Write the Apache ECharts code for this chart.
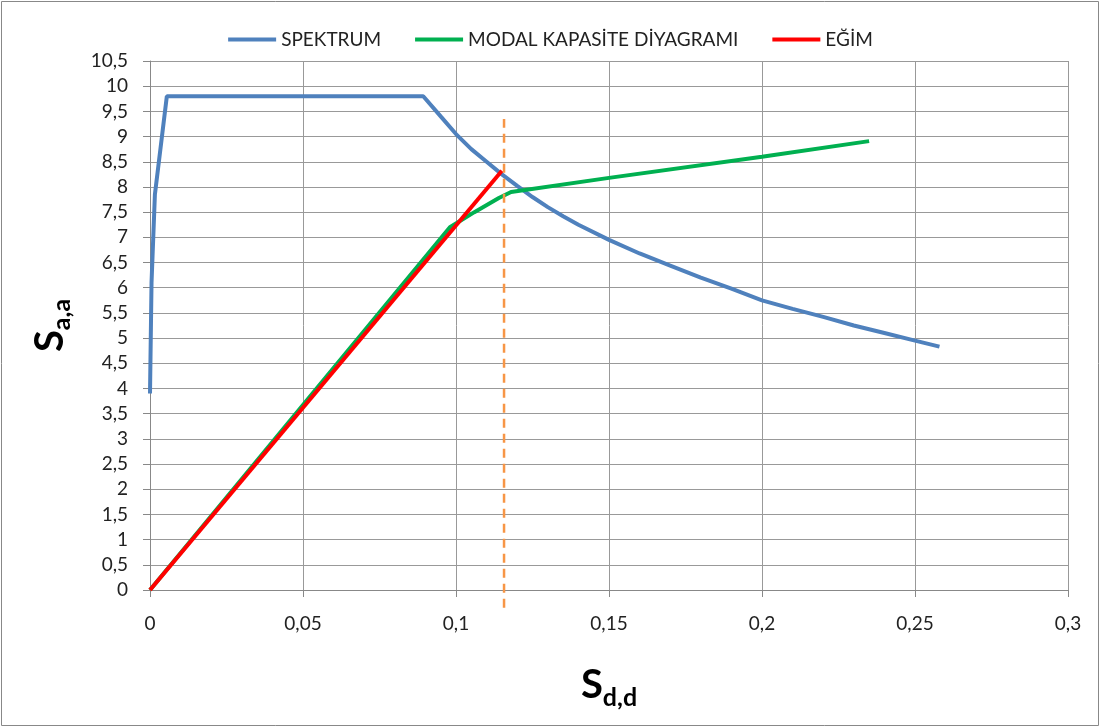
<!DOCTYPE html>
<html>
<head>
<meta charset="utf-8">
<script src="https://cdn.jsdelivr.net/npm/echarts@6/dist/echarts.min.js"></script>
<style>
  html, body { margin: 0; padding: 0; background: #fff; }
  #chart { width: 1101px; height: 728px; }
</style>
</head>
<body>
<div id="chart"></div>
<script>
// spektrum egrisi (Sd, Sa)
var spektrum = [
  [0, 3.9], [0.0005, 6.1], [0.0016, 7.85], [0.0055, 9.8], [0.0893, 9.8],
  [0.095, 9.4], [0.1, 9.05], [0.105, 8.75], [0.11, 8.5], [0.115, 8.25],
  [0.12, 8.02], [0.125, 7.8], [0.13, 7.6], [0.135, 7.42], [0.14, 7.25],
  [0.15, 6.95], [0.16, 6.68], [0.17, 6.44], [0.18, 6.2], [0.19, 5.98],
  [0.2, 5.75], [0.21, 5.58], [0.22, 5.42], [0.23, 5.25], [0.24, 5.1],
  [0.25, 4.95], [0.258, 4.83]
];
// modal kapasite diyagrami
var kapasite = [
  [0, 0], [0.098, 7.2], [0.106, 7.5], [0.114, 7.78], [0.118, 7.9],
  [0.15, 8.18], [0.2, 8.6], [0.235, 8.91]
];
// egim dogrusu
var egim = [[0, 0], [0.115, 8.32]];
// performans noktasi (kesikli dikey cizgi)
var performans = [[0.1157, -0.35], [0.1157, 9.35]];

var chart = echarts.init(document.getElementById('chart'));

var virgul = function (v) { return String(+v.toFixed(2)).replace('.', ','); };
var yazi = 'Lato';

var option = {
  animation: false,
  textStyle: { fontFamily: yazi },
  graphic: [{
    type: 'rect',
    shape: { x: 1.5, y: 1.5, width: 1097, height: 724 },
    style: { fill: 'none', stroke: '#888', lineWidth: 1 }
  }],
  legend: {
    data: ['SPEKTRUM', 'MODAL KAPASİTE DİYAGRAMI', 'EĞİM'],
    top: 25,
    left: 'center',
    icon: 'rect',
    itemWidth: 48,
    itemHeight: 4,
    itemGap: 34,
    textStyle: { fontSize: 19, color: '#222', fontFamily: yazi }
  },
  grid: { left: 150, right: 33, top: 61, bottom: 138 },
  xAxis: {
    type: 'value',
    min: 0, max: 0.3, interval: 0.05,
    axisLine: { lineStyle: { color: '#888' } },
    axisTick: { show: true, length: 7, lineStyle: { color: '#888' } },
    axisLabel: { formatter: virgul, fontSize: 19, color: '#222', margin: 24 },
    splitLine: { lineStyle: { color: '#999' } },
    name: '{s|S}{sub|d,d}',
    nameLocation: 'middle',
    nameGap: 80,
    nameTextStyle: {
      rich: {
        s: { fontSize: 40, fontWeight: 'bold', color: '#000', fontFamily: yazi, lineHeight: 40, padding: [0, 0, 10, 0] },
        sub: { fontSize: 25, fontWeight: 'bold', color: '#000', fontFamily: yazi, verticalAlign: 'bottom', lineHeight: 24 }
      }
    }
  },
  yAxis: {
    type: 'value',
    min: 0, max: 10.5, interval: 0.5,
    axisLine: { show: true, lineStyle: { color: '#888' } },
    axisTick: { show: true, length: 7, lineStyle: { color: '#888' } },
    axisLabel: { formatter: virgul, fontSize: 19, color: '#222', margin: 22 },
    splitLine: { lineStyle: { color: '#999' } },
    name: '{s|S}{sub|a,a}',
    nameLocation: 'middle',
    nameRotate: 90,
    nameGap: 68,
    nameTextStyle: {
      rich: {
        s: { fontSize: 40, fontWeight: 'bold', color: '#000', fontFamily: yazi, lineHeight: 40, padding: [0, 0, 10, 0] },
        sub: { fontSize: 25, fontWeight: 'bold', color: '#000', fontFamily: yazi, verticalAlign: 'bottom', lineHeight: 24 }
      }
    }
  },
  series: [
    {
      name: 'SPEKTRUM', type: 'line', data: spektrum, showSymbol: false, symbol: 'none',
      lineStyle: { color: '#4F81BD', width: 4 }, itemStyle: { color: '#4F81BD' }
    },
    {
      name: 'MODAL KAPASİTE DİYAGRAMI', type: 'line', data: kapasite, showSymbol: false, symbol: 'none',
      lineStyle: { color: '#00B050', width: 4 }, itemStyle: { color: '#00B050' }
    },
    {
      name: 'EĞİM', type: 'line', data: egim, showSymbol: false, symbol: 'none',
      lineStyle: { color: '#FF0000', width: 4 }, itemStyle: { color: '#FF0000' }
    },
    {
      name: 'performans', type: 'line', data: performans, showSymbol: false, symbol: 'none',
      clip: false,
      lineStyle: { color: '#F79646', width: 2.5, type: [9, 6] }
    }
  ]
};

chart.setOption(option);
window.addEventListener('resize', chart.resize);
</script>
</body>
</html>
